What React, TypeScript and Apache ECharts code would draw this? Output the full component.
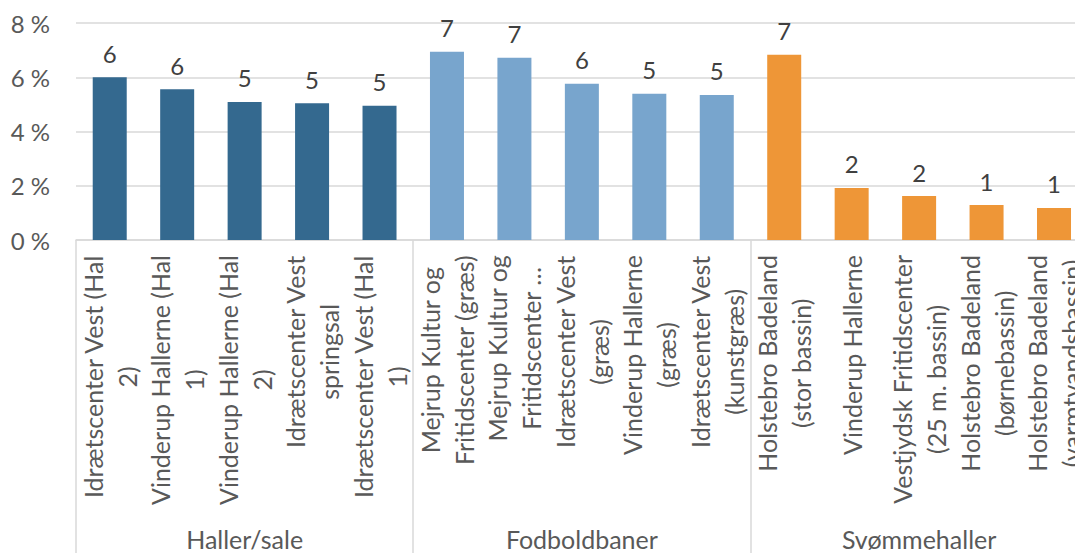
import React, { useEffect, useRef } from "react";
import * as echarts from "echarts";

const groups = ["Haller/sale", "Fodboldbaner", "Svømmehaller"];

const hallerCategories = [
  "Idrætscenter Vest (Hal\n2)",
  "Vinderup Hallerne (Hal\n1)",
  "Vinderup Hallerne (Hal\n2)",
  "Idrætscenter Vest\nspringsal",
  "Idrætscenter Vest (Hal\n1)",
];
const fodboldCategories = [
  "Mejrup Kultur og\nFritidscenter (græs)",
  "Mejrup Kultur og\nFritidscenter …",
  "Idrætscenter Vest\n(græs)",
  "Vinderup Hallerne\n(græs)",
  "Idrætscenter Vest\n(kunstgræs)",
];
const svoemCategories = [
  "Holstebro Badeland\n(stor bassin)",
  "Vinderup Hallerne",
  "Vestjydsk Fritidscenter\n(25 m. bassin)",
  "Holstebro Badeland\n(børnebassin)",
  "Holstebro Badeland\n(varmtvandsbassin)",
];

const hallerValues = [6.0, 5.56, 5.09, 5.04, 4.95];
const fodboldValues = [6.94, 6.72, 5.76, 5.39, 5.35];
const svoemValues = [6.83, 1.92, 1.62, 1.29, 1.18];

const groupColors = ["#34698f", "#78a5cd", "#ee9637"];

const FONT = "Lato, 'Open Sans', sans-serif";

export default function App() {
  const ref = useRef<HTMLDivElement>(null);
  useEffect(() => {
    if (!ref.current) return;
    const chart = echarts.init(ref.current, null, { renderer: "svg" });
    const categories = [...hallerCategories, ...fodboldCategories, ...svoemCategories];
    const valueGroups = [hallerValues, fodboldValues, svoemValues];
    const data: any[] = [];
    valueGroups.forEach((vals, gi) => {
      vals.forEach((v) => data.push({ value: v, itemStyle: { color: groupColors[gi] } }));
    });
    chart.setOption({
      animation: false,
      textStyle: { fontFamily: FONT },
      grid: { left: 76, top: 23, right: 0, bottom: 313, containLabel: false },
      xAxis: [
        {
          type: "category",
          data: categories,
          position: "bottom",
          axisLine: { show: true, lineStyle: { color: "#d9d9d9", width: 1.5 } },
          axisTick: { show: false },
          axisLabel: {
            interval: 0,
            rotate: 90,
            margin: 15,
            color: "#595959",
            fontFamily: FONT,
            fontSize: 25,
            lineHeight: 34,
            formatter: (val: string) =>
              val
                .split("\n")
                .map((l) => `{c|${l}}`)
                .join("\n"),
            rich: {
              c: { align: "center", fontSize: 25, lineHeight: 34, color: "#595959", fontFamily: FONT },
            },
          },
        },
        {
          type: "category",
          data: groups,
          position: "bottom",
          axisLine: { show: false },
          axisTick: { show: true, interval: 0, length: 330, lineStyle: { color: "#d9d9d9", width: 1.5 } },
          axisLabel: {
            interval: 0,
            margin: 286,
            color: "#595959",
            fontFamily: FONT,
            fontSize: 25,
          },
        },
      ],
      yAxis: {
        type: "value",
        min: 0,
        max: 8,
        interval: 2,
        axisLine: { show: false },
        axisTick: { show: false },
        splitLine: { lineStyle: { color: "#d9d9d9", width: 1.5 } },
        axisLabel: {
          margin: 26,
          color: "#595959",
          fontFamily: FONT,
          fontSize: 24,
          formatter: (v: number) => `${v} %`,
        },
      },
      series: [
        {
          type: "bar",
          xAxisIndex: 0,
          data,
          barWidth: 34,
          label: {
            show: true,
            position: "top",
            distance: 12,
            color: "#404040",
            fontFamily: FONT,
            fontSize: 24,
            formatter: (p: any) => `${Math.round(p.value)}`,
          },
        },
      ],
    });
    return () => chart.dispose();
  }, []);
  return (
    <div
      style={{
        position: "absolute",
        left: 0,
        top: 0,
        width: 1075,
        height: 553,
        overflow: "hidden",
      }}
    >
      <div ref={ref} style={{ width: 1088, height: 553 }} />
    </div>
  );
}
